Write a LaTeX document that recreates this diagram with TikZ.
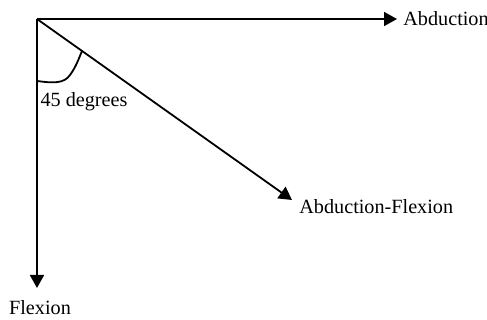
\documentclass[tikz,border=0pt]{standalone}
\usepackage{fontspec}
\setmainfont{Liberation Serif}
\usepackage{tikz}
\usetikzlibrary{arrows.meta,positioning}

\begin{document}
\begin{tikzpicture}[
    x=0.5pt, y=-0.5pt,
    every node/.style={font=\fontsize{10.1pt}{12pt}\selectfont},
    axis/.style={line width=0.9pt, -{Triangle[length=6.5pt,width=7pt]}},
    lbl/.style={inner sep=3pt}
]
\useasboundingbox (0,0) rectangle (487,320);
\coordinate (o) at (37,19);
\node[lbl, anchor=west] (abd) at (397,19) {Abduction};
\node[lbl, anchor=north, inner sep=6pt] (flex) at (40,288) {Flexion};
\coordinate (afend) at (292,200);
\node[anchor=north west, inner sep=0pt] (af) at (299,199) {Abduction-Flexion};
\node (ang) at (84,102) {45 degrees};

\draw[axis] (o) -- (abd.west);
\draw[axis] (o) -- (o |- flex.north);
\draw[axis] (o) -- (afend);
% angle mark
\draw[line width=0.9pt] (37,81) .. controls (52,83) and (64,84) .. (70,75)
    .. controls (76,67) and (79,58) .. (82,51);
\end{tikzpicture}
\end{document}
